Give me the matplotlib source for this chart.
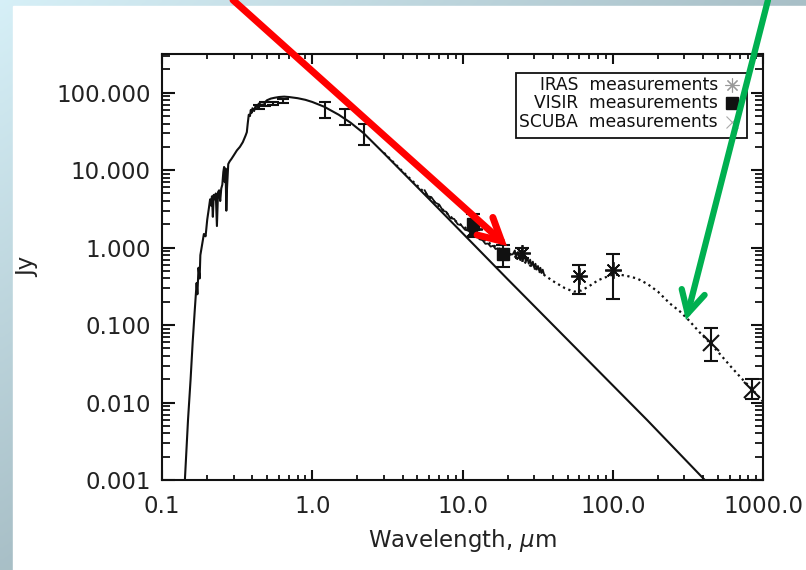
import numpy as np
import matplotlib
matplotlib.use("Agg")
import matplotlib.pyplot as plt
from matplotlib.patches import Rectangle, FancyArrowPatch

# photosphere model (solid line), wavelength in micron, flux in Jy
star_wl = [0.142, 0.149, 0.155, 0.160, 0.165, 0.170, 0.172, 0.175, 0.178, 0.180,
           0.185, 0.190, 0.195, 0.200, 0.205, 0.209, 0.212, 0.215, 0.218, 0.221,
           0.225, 0.228, 0.232, 0.236, 0.240, 0.244, 0.248, 0.252, 0.256, 0.259,
           0.262, 0.265, 0.268, 0.271, 0.276, 0.282, 0.290, 0.300, 0.315, 0.330,
           0.345, 0.360, 0.367, 0.372, 0.378, 0.385, 0.390, 0.395, 0.400, 0.410,
           0.420, 0.430, 0.440, 0.460, 0.480, 0.500, 0.530, 0.560, 0.600, 0.650,
           0.700, 0.800, 0.900, 1.0, 1.2, 1.5, 1.8, 2.2, 3.0, 6.1, 20.0, 170.0, 500.0]
star_fl = [0.001, 0.006, 0.02, 0.06, 0.15, 0.35, 0.25, 0.55, 0.40, 0.8,
           1.1, 1.5, 1.4, 2.3, 3.2, 4.2, 3.5, 4.6, 2.5, 4.8,
           4.2, 5.0, 1.9, 5.2, 5.5, 4.0, 5.8, 6.5, 9.5, 11.0,
           7.0, 10.5, 3.0, 6.0, 12.0, 13.0, 14.0, 15.5, 18.0, 20.0,
           23.0, 28.0, 31.0, 40.0, 52.0, 50.0, 60.0, 55.0, 63.0, 58.0,
           68.0, 65.0, 72.0, 76.0, 74.0, 80.0, 84.0, 86.0, 88.0, 89.0,
           88.0, 85.0, 81.0, 76.0, 66.0, 52.0, 41.0, 30.0, 16.5, 4.1, 0.39, 0.0059, 0.00067]

# star + disk model (dotted line)
disk_wl = [3.0, 4.0, 5.5, 7.0, 9.0, 12.0, 15.0, 18.0, 22.0, 27.0, 33.0, 40.0, 48.0,
           55.0, 62.0, 70.0, 80.0, 97.0, 110.0, 125.0, 145.0, 170.0, 200.0, 240.0,
           280.0, 320.0, 380.0, 450.0, 530.0, 612.0, 720.0, 857.0, 1000.0]
disk_fl = [16.8, 9.6, 5.3, 3.4, 2.2, 1.5, 1.15, 0.95, 0.78, 0.62, 0.48, 0.37, 0.30,
           0.27, 0.28, 0.32, 0.38, 0.44, 0.45, 0.43, 0.40, 0.34, 0.27, 0.19,
           0.15, 0.116, 0.080, 0.057, 0.040, 0.029, 0.0205, 0.0145, 0.0103]

# mid-IR spectrum (jagged line)
spec_wl = [5.6, 5.9, 6.2, 6.6, 7.0, 7.4, 7.8, 8.3, 8.8, 9.3, 9.8, 10.4, 11.0, 11.6,
           12.3, 13.0, 13.6, 14.2, 14.8, 15.4, 16.0, 16.6, 17.2, 17.8, 18.5, 19.2,
           20.0, 20.8, 21.6, 22.3, 22.8, 23.4, 24.0, 24.6, 25.2, 25.8, 26.4, 27.0,
           27.6, 28.2, 28.8, 29.4, 30.0, 30.6, 31.2, 31.8, 32.4, 33.0, 33.6, 34.2, 34.8]
spec_fl = [5.5, 4.6, 4.5, 3.8, 3.6, 3.0, 2.9, 2.4, 2.35, 2.0, 1.95, 1.7, 1.65, 1.45,
           1.45, 1.28, 1.25, 1.12, 1.13, 1.03, 1.06, 0.96, 0.98, 0.91, 0.93, 0.85,
           0.88, 0.81, 0.82, 0.92, 0.76, 0.88, 0.72, 0.84, 0.70, 0.80, 0.66, 0.74,
           0.62, 0.70, 0.58, 0.66, 0.55, 0.62, 0.52, 0.58, 0.50, 0.55, 0.47, 0.52, 0.46]

# optical / near-IR photometry
phot_wl = [0.44, 0.485, 0.55, 0.64, 1.22, 1.66, 2.2]
phot_fl = [65.0, 71.0, 73.0, 78.0, 61.0, 48.0, 30.0]
phot_lo = [4.0, 4.0, 4.0, 4.0, 14.0, 10.0, 9.0]
phot_hi = [4.0, 4.0, 4.0, 4.0, 16.0, 13.0, 10.0]

iras_wl = [12.0, 25.0, 60.0, 100.0]
iras_fl = [1.75, 0.85, 0.43, 0.52]
iras_lo = [0.35, 0.12, 0.18, 0.30]
iras_hi = [0.35, 0.15, 0.16, 0.30]

visir_wl = [11.7, 18.7]
visir_fl = [2.0, 0.84]
visir_lo = [0.63, 0.27]
visir_hi = [0.75, 0.25]

scuba_wl = [450.0, 850.0]
scuba_fl = [0.059, 0.0145]
scuba_lo = [0.025, 0.0035]
scuba_hi = [0.032, 0.0055]

x_ticks = [0.1, 1.0, 10.0, 100.0, 1000.0]
x_labels = ["0.1", "1.0", "10.0", "100.0", "1000.0"]
y_ticks = [0.001, 0.01, 0.1, 1.0, 10.0, 100.0]
y_labels = ["0.001", "0.010", "0.100", "1.000", "10.000", "100.000"]

legend_labels = ["IRAS  measurements", "VISIR  measurements", "SCUBA  measurements"]

W, H = 806, 570
fig = plt.figure(figsize=(W / 100, H / 100), dpi=100)

# slide background gradient + white panel
bg = fig.add_axes([0, 0, 1, 1])
bg.set_axis_off()
gx, gy = np.meshgrid(np.linspace(0, 1, 200), np.linspace(0, 1, 200))
t = np.clip(gx + gy, 0, 1)[..., None]
c0 = np.array([0.84, 0.94, 0.97])
c1 = np.array([0.66, 0.75, 0.78])
bg.imshow(c0 * (1 - t) + c1 * t, extent=[0, 1, 0, 1], origin="upper", aspect="auto")
bg.add_patch(Rectangle((13 / W, 0), 1, (H - 6) / H, color="white", transform=bg.transAxes))
bg.set_xlim(0, 1)
bg.set_ylim(0, 1)

ax = fig.add_axes([162 / W, (H - 480) / H, 601 / W, 426 / H])
ax.set_xscale("log")
ax.set_yscale("log")
ax.set_xlim(0.1, 1000)
ax.set_ylim(1e-3, 10 ** 2.5)

ink = "#111111"
ax.plot(star_wl, star_fl, color=ink, lw=1.5)
ax.plot(disk_wl, disk_fl, color=ink, lw=1.6, ls=(0, (1, 1.6)))
ax.plot(spec_wl, spec_fl, color=ink, lw=1.3)

eb = dict(fmt="none", ecolor=ink, elinewidth=1.5, capthick=1.5)
ax.errorbar(phot_wl, phot_fl, yerr=[phot_lo, phot_hi], capsize=4.5, **eb)
ax.errorbar(iras_wl, iras_fl, yerr=[iras_lo, iras_hi], capsize=5, **eb)
ax.errorbar(visir_wl, visir_fl, yerr=[visir_lo, visir_hi], capsize=5, **eb)
ax.errorbar(scuba_wl, scuba_fl, yerr=[scuba_lo, scuba_hi], capsize=5, **eb)

ax.plot(iras_wl, iras_fl, ls="none", marker=(8, 2, 0), ms=12, mew=1.3, color=ink)
ax.plot(visir_wl, visir_fl, ls="none", marker="s", ms=9, color=ink)
ax.plot(scuba_wl, scuba_fl, ls="none", marker="x", ms=11, mew=1.5, color=ink)

# axes styling (IDL look)
for s in ax.spines.values():
    s.set_linewidth(1.5)
    s.set_color(ink)
ax.set_xticks(x_ticks)
ax.set_xticklabels(x_labels)
ax.set_yticks(y_ticks)
ax.set_yticklabels(y_labels)
ax.tick_params(which="both", direction="in", top=True, right=True, colors=ink,
               labelcolor="#222222", labelsize=16.5)
ax.tick_params(axis="x", which="major", length=7, width=1.5, pad=11)
ax.tick_params(axis="x", which="minor", length=3.5, width=1.3)
ax.tick_params(axis="y", which="major", length=9, width=1.5, pad=8)
ax.tick_params(axis="y", which="minor", length=5.5, width=1.3)

ax.set_xlabel(r"Wavelength, $\mu$m", fontsize=16.5, color="#222222")
ax.xaxis.set_label_coords(0.5, -0.11)
ax.set_ylabel("Jy", fontsize=16.5, color="#222222")
ax.yaxis.set_label_coords(-0.205, 0.5)

# legend box drawn by hand (labels right-aligned, symbols on the right)
ax.add_patch(Rectangle((0.589, 0.803), 0.384, 0.152, transform=ax.transAxes,
                       facecolor="white", edgecolor=ink, lw=1.3, zorder=5))
rows = [0.927, 0.884, 0.840]
for lab, yy in zip(legend_labels, rows):
    ax.text(0.925, yy, lab, transform=ax.transAxes, ha="right", va="center",
            fontsize=12.3, color=ink, zorder=6)
ax.plot([0.948], [rows[0]], transform=ax.transAxes, marker=(8, 2, 0), ms=10,
        mew=0.8, color="#999999", zorder=6, clip_on=False)
ax.plot([0.948], [rows[1]], transform=ax.transAxes, marker="s", ms=8,
        color=ink, zorder=6, clip_on=False)
ax.plot([0.948], [rows[2]], transform=ax.transAxes, marker="x", ms=8,
        mew=0.8, color="#aaaaaa", zorder=6, clip_on=False)

# annotation arrows on top of everything
for (xa, ya), (xb, yb), col, lw in [((233, 0), (507, 246), "#ff0000", 5),
                                   ((768, 0), (686, 320), "#00b050", 4.5)]:
    fig.add_artist(FancyArrowPatch((xa / W, 1 - ya / H), (xb / W, 1 - yb / H),
                                   transform=fig.transFigure,
                                   arrowstyle="->,head_length=16,head_width=8.5",
                                   mutation_scale=1, color=col, lw=lw,
                                   shrinkA=0, shrinkB=0, zorder=20,
                                   capstyle="round", joinstyle="miter"))

fig.savefig("out.png", dpi=100)
